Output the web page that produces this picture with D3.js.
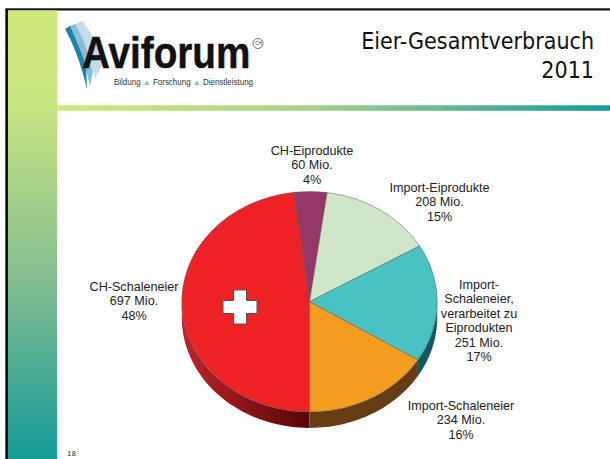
<!DOCTYPE html>
<html>
<head>
<meta charset="utf-8">
<script src="https://cdn.jsdelivr.net/npm/d3@7"></script>
<style>
html, body { margin: 0; padding: 0; background: #fff; }
svg { display: block; }
text { font-family: "Liberation Sans", Arial, sans-serif; }
</style>
</head>
<body>
<div id="chart"></div>
<script>
const categories = ["CH-Schaleneier", "CH-Eiprodukte", "Import-Eiprodukte", "Import-Schaleneier, verarbeitet zu Eiprodukten", "Import-Schaleneier"];
const values = [697, 60, 208, 251, 234];
const percents = [48, 4, 15, 17, 16];
const colors = ["#ee2224", "#953767", "#d0e6c8", "#48c2c2", "#f59d20"];
const sideColors = ["#8a1216", "#5c2140", "#7f8c78", "#135a5c", "#653c14"];
const labelLines = [
  ["CH-Schaleneier", "697 Mio.", "48%"],
  ["CH-Eiprodukte", "60 Mio.", "4%"],
  ["Import-Eiprodukte", "208 Mio.", "15%"],
  ["Import-", "Schaleneier,", "verarbeitet zu", "Eiprodukten", "251 Mio.", "17%"],
  ["Import-Schaleneier", "234 Mio.", "16%"]
];
const labelPos = [[134, 291], [312, 155], [439.5, 192], [479, 289], [461, 410]];

const width = 610, height = 459;
const cx = 309.5, cy = 301.7, rx = 127.7, ry = 110.2, depth = 16;

const svg = d3.select("#chart").append("svg")
  .attr("width", width)
  .attr("height", height);

const defs = svg.append("defs");

const sideGrad = defs.append("linearGradient").attr("id", "redSide");
sideGrad.append("stop").attr("offset", "0%").attr("stop-color", "#c0242a");
sideGrad.append("stop").attr("offset", "100%").attr("stop-color", "#560505");

const sideBar = defs.append("linearGradient").attr("id", "sideBar")
  .attr("x1", 0).attr("x2", 0).attr("y1", 0).attr("y2", 1);
sideBar.append("stop").attr("offset", "0%").attr("stop-color", "#cdea7a");
sideBar.append("stop").attr("offset", "20%").attr("stop-color", "#c8e680");
sideBar.append("stop").attr("offset", "58%").attr("stop-color", "#88bf8f");
sideBar.append("stop").attr("offset", "100%").attr("stop-color", "#149c98");

const topBar = defs.append("linearGradient").attr("id", "topBar");
topBar.append("stop").attr("offset", "0%").attr("stop-color", "#cdea7a");
topBar.append("stop").attr("offset", "45%").attr("stop-color", "#a9d28a");
topBar.append("stop").attr("offset", "100%").attr("stop-color", "#129a98");

// slide frame
svg.append("rect").attr("x", 5.3).attr("y", 8.3).attr("width", 605).attr("height", 451).attr("fill", "#111");
svg.append("rect").attr("x", 8).attr("y", 10.5).attr("width", 602).attr("height", 449).attr("fill", "#fff");
svg.append("rect").attr("x", 8).attr("y", 10.5).attr("width", 49).attr("height", 449).attr("fill", "url(#sideBar)");
svg.append("rect").attr("x", 57).attr("y", 105.3).attr("width", 553).attr("height", 5.5).attr("fill", "url(#topBar)");

// title
svg.append("g").attr("text-anchor", "end")
  .selectAll("text")
  .data(["Eier-Gesamtverbrauch", "2011"])
  .join("text")
  .attr("x", 594)
  .attr("y", (d, i) => 49 + i * 29)
  .attr("font-size", 23)
  .style("font-family", "'DejaVu Sans Condensed', 'DejaVu Sans', sans-serif")
  .attr("fill", "#111")
  .text(d => d);

// logo
const logo = svg.append("g");
logo.append("path")
  .attr("d", "M72 26 Q77 23 82 21 Q95 36 104 62 L95 78 Q88 48 72 26 Z")
  .attr("fill", "#c4dbe9");
logo.append("path")
  .attr("d", "M68 27 Q72 25 75 24 Q86 42 93 72 L90 86 Q82 50 68 27 Z")
  .attr("fill", "#8dbcd6");
logo.append("path")
  .attr("d", "M65 29 L70 26 Q80 48 86 66 L87 89 Q78 52 65 29 Z")
  .attr("fill", "#1a84ab");
logo.append("text")
  .attr("transform", "translate(82,68) scale(0.86,1)")
  .attr("font-size", 45).attr("font-weight", "bold")
  .attr("fill", "#111").attr("stroke", "#111").attr("stroke-width", 0.5)
  .text("Aviforum");
const tagline = logo.append("text").attr("x", 114).attr("y", 84.5)
  .attr("font-size", 8.2).attr("fill", "#333")
  .attr("textLength", 139).attr("lengthAdjust", "spacingAndGlyphs");
["Bildung ", "▲", " Forschung ", "▲", " Dienstleistung"].forEach(t => {
  tagline.append("tspan").attr("fill", t === "▲" ? "#8fb8d0" : "#333").text(t);
});
logo.append("circle").attr("cx", 258).attr("cy", 43.5).attr("r", 5)
  .attr("fill", "none").attr("stroke", "#333").attr("stroke-width", 0.7);
logo.append("text").attr("x", 258.5).attr("y", 45).attr("text-anchor", "middle")
  .attr("font-size", 4.5).attr("fill", "#333").text("CH");

// page number
svg.append("text").attr("x", 67).attr("y", 456)
  .attr("font-size", 8).attr("fill", "#333").text("18");

// pie
const pieData = d3.pie()
  .sort(null)
  .value(d => d)
  .startAngle(Math.PI)
  .endAngle(3 * Math.PI)(values);

const pt = (a, dy) => [cx + rx * Math.sin(a), cy - ry * Math.cos(a) + dy];

// lower wall: only the part of each slice on the front half of the ellipse
const wall = svg.append("g");
pieData.forEach((d, i) => {
  const a0 = Math.max(d.startAngle, Math.PI / 2);
  const a1 = Math.min(d.endAngle, Math.PI * 1.5);
  const b0 = Math.max(d.startAngle - 2 * Math.PI, Math.PI / 2);
  const b1 = Math.min(d.endAngle - 2 * Math.PI, Math.PI * 1.5);
  [[a0, a1], [b0, b1]].forEach(([s, e]) => {
    if (e <= s) return;
    const steps = d3.range(0, 41).map(k => s + (e - s) * k / 40);
    const path = steps.map(a => pt(a, 0)).concat(steps.slice().reverse().map(a => pt(a, depth)));
    wall.append("path")
      .attr("d", d3.line()(path) + "Z")
      .attr("fill", i === 0 ? "url(#redSide)" : sideColors[i]);
  });
});

const arc = d3.arc().innerRadius(0).outerRadius(rx);
svg.append("g")
  .attr("transform", `translate(${cx},${cy}) scale(1,${ry / rx})`)
  .selectAll("path")
  .data(pieData)
  .join("path")
  .attr("fill", (d, i) => colors[i])
  .attr("stroke", "#555")
  .attr("stroke-width", 0.5)
  .attr("d", arc);

// swiss cross on the red slice
const crossX = 240, crossY = 307, arm = 6.5, len = 17;
svg.append("path")
  .attr("d", `M${crossX - arm} ${crossY - len}H${crossX + arm}V${crossY - arm}H${crossX + len}V${crossY + arm}H${crossX + arm}V${crossY + len}H${crossX - arm}V${crossY + arm}H${crossX - len}V${crossY - arm}H${crossX - arm}Z`)
  .attr("fill", "#fff")
  .attr("stroke", "#555")
  .attr("stroke-width", 1);

// slice labels
const labels = svg.append("g").attr("text-anchor", "middle").attr("fill", "#222").attr("font-size", 12.6);
labelLines.forEach((lines, i) => {
  labels.append("text")
    .attr("transform", `translate(${labelPos[i][0]},${labelPos[i][1]})`)
    .selectAll("tspan")
    .data(lines)
    .join("tspan")
    .attr("x", 0)
    .attr("y", (d, k) => k * 14.4)
    .text(d => d);
});
</script>
</body>
</html>
